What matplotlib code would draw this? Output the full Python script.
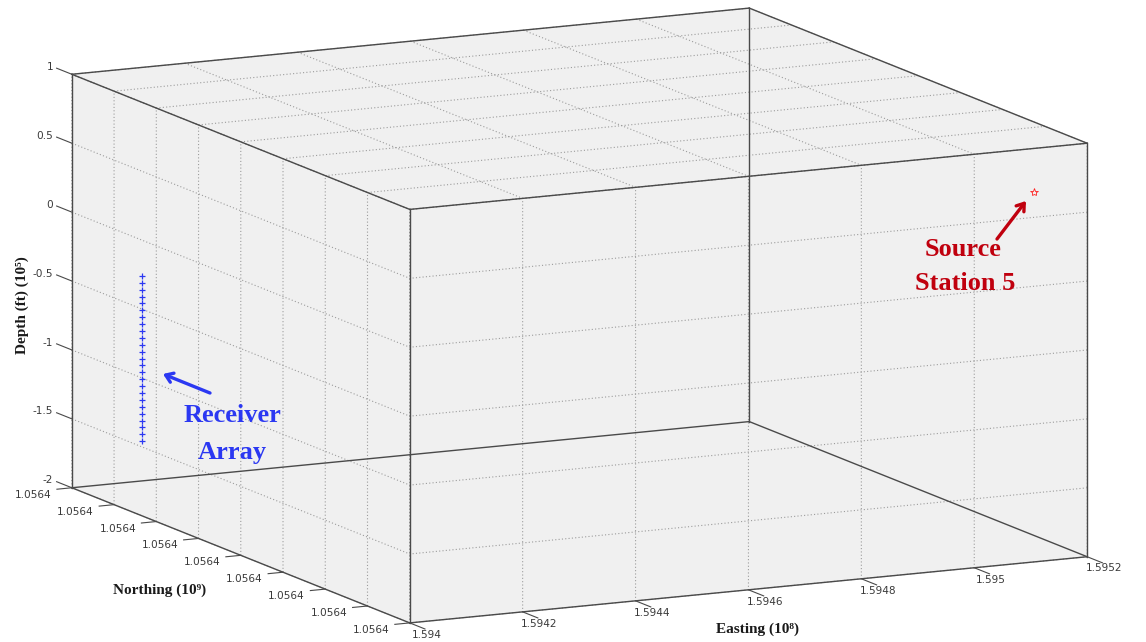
import numpy as np
import matplotlib
matplotlib.use('Agg')
import matplotlib.pyplot as plt
from matplotlib.patches import FancyArrowPatch
from matplotlib.ticker import NullFormatter
from mpl_toolkits.mplot3d import proj3d

# axis ticks: Easting (1e8), Northing (1e9), Depth in ft (1e5)
easting_ticks = [1.594, 1.5942, 1.5944, 1.5946, 1.5948, 1.595, 1.5952]
northing_ticks = [1.056400, 1.056405, 1.056410, 1.056415, 1.056420,
                  1.056425, 1.056430, 1.056435, 1.056440]
depth_ticks = [-2, -1.5, -1, -0.5, 0, 0.5, 1]

# downhole receiver string
receiver_easting = 1.59405
receiver_northing = 1.056405
receiver_depth = [-0.36, -0.41, -0.46, -0.51, -0.56, -0.61, -0.66, -0.71,
                  -0.76, -0.81, -0.86, -0.91, -0.96, -1.01, -1.06, -1.11,
                  -1.16, -1.21, -1.26, -1.31, -1.36, -1.41, -1.46, -1.51,
                  -1.56]

# source station 5
source_easting = [1.59515]
source_northing = [1.056437]
source_depth = [0.59]

W, H = 1146, 642
PANE = '#f0f0f0'
EDGE = '#4a4a4a'
GRID = '#9c9c9c'
TICK_TXT = '#3a3a3a'
SERIF = ['Liberation Serif', 'DejaVu Serif']
BLUE = '#2b38f2'
RED = '#c0000e'


def fig_xy(x, y):
    '''image pixel position (origin top left) -> figure fraction'''
    return x / W, 1 - y / H


fig = plt.figure(figsize=(W / 100, H / 100), dpi=100)
ax = fig.add_axes([0, 0, 1, 1], projection='3d', proj_type='ortho')
ax.view_init(elev=-11.4, azim=-63.7, roll=0)
ax.set_box_aspect((756, 763, 422))
ax.patch.set_visible(False)

for axis, ticks in ((ax.xaxis, easting_ticks), (ax.yaxis, northing_ticks),
                    (ax.zaxis, depth_ticks)):
    axis.set_ticks(ticks)
    axis.set_major_formatter(NullFormatter())
    axis.set_pane_color(PANE)
    axis.line.set_visible(False)
    axis._axinfo['tick']['inward_factor'] = 0
    axis._axinfo['tick']['outward_factor'] = 0
    axis._axinfo['grid'].update(color=GRID, linewidth=0.8, linestyle=(0, (1, 2)))

x0, x1 = easting_ticks[0], easting_ticks[-1]
y0, y1 = northing_ticks[0], northing_ticks[-1]
z0, z1 = depth_ticks[0], depth_ticks[-1]
dx, dy = x1 - x0, y1 - y0

# data
ax.plot([receiver_easting] * len(receiver_depth),
        [receiver_northing] * len(receiver_depth), receiver_depth,
        linestyle='none', marker='+', ms=5, mew=0.9, color=BLUE)
ax.plot(source_easting, source_northing, source_depth, linestyle='none',
        marker='*', ms=6, mew=0.6, mfc='none', mec='#ff2020')

# full box outline
corners = np.array([(x, y, z) for x in (x0, x1) for y in (y0, y1)
                    for z in (z0, z1)])
for i in range(len(corners)):
    for j in range(i + 1, len(corners)):
        if np.sum(corners[i] != corners[j]) == 1:
            a, b = corners[i], corners[j]
            ax.plot([a[0], b[0]], [a[1], b[1]], [a[2], b[2]],
                    color=EDGE, lw=1.0)

# tick marks on the three labelled edges
tick_kw = dict(color=EDGE, lw=0.8)
for z in depth_ticks:
    ax.plot([x0, x0], [y0, y0 - 0.045 * dy], [z, z], **tick_kw)
for y in northing_ticks:
    ax.plot([x0, x0 - 0.022 * dx], [y, y], [z0, z0], **tick_kw)
for x in easting_ticks:
    ax.plot([x, x], [y1, y1 + 0.045 * dy], [z0, z0], **tick_kw)

ax.set_xlim(x0, x1)
ax.set_ylim(y0, y1)
ax.set_zlim(z0, z1)

# scale and shift the axes so the box fills the canvas
fig.canvas.draw()
px, py, _ = proj3d.proj_transform(corners[:, 0], corners[:, 1], corners[:, 2],
                                  ax.get_proj())
disp = ax.transData.transform(np.column_stack([px, py]))
bx0, by0 = disp.min(axis=0)
bx1, by1 = disp.max(axis=0)
tx0, tx1, ty0, ty1 = 72, 1087, H - 623, H - 8
s = ((tx1 - tx0) / (bx1 - bx0) + (ty1 - ty0) / (by1 - by0)) / 2
pos = ax.get_position()
aw, ah = pos.width * W, pos.height * H
acx, acy = (pos.x0 + pos.width / 2) * W, (pos.y0 + pos.height / 2) * H
ncx = (tx0 + tx1) / 2 - s * ((bx0 + bx1) / 2 - acx)
ncy = (ty0 + ty1) / 2 - s * ((by0 + by1) / 2 - acy)
ax.set_position([(ncx - aw * s / 2) / W, (ncy - ah * s / 2) / H,
                 aw * s / W, ah * s / H])
fig.canvas.draw()


def to_fig(x, y, z):
    '''3D data point -> figure fraction, for flat text placement'''
    qx, qy, _ = proj3d.proj_transform(np.atleast_1d(x), np.atleast_1d(y),
                                      np.atleast_1d(z), ax.get_proj())
    pt = ax.transData.transform(np.column_stack([qx, qy]))[0]
    return fig.transFigure.inverted().transform(pt)


# tick labels
label_kw = dict(fontsize=7.6, color=TICK_TXT, family='DejaVu Sans')
for z in depth_ticks:
    fig.text(*to_fig(x0, y0 - 0.055 * dy, z), f'{z:g}', ha='right',
             va='center', **label_kw)
for y in northing_ticks:
    fig.text(*to_fig(x0 - 0.03 * dx, y, z0), f'{y:.4f}', ha='right',
             va='top', **label_kw)
for x in easting_ticks:
    fig.text(*to_fig(x, y1 + 0.05 * dy, z0), f'{x:g}', ha='center',
             va='top', **label_kw)

# axis titles
lab_kw = dict(fontsize=11, fontweight='bold', family=SERIF, color='#1a1a1a',
              ha='center', va='center')
fig.text(*fig_xy(22, 305), 'Depth (ft) (10⁵)', rotation=90, **lab_kw)
fig.text(*fig_xy(160, 590), 'Northing (10⁹)', **lab_kw)
fig.text(*fig_xy(757, 629), 'Easting (10⁸)', **lab_kw)

# callouts
note_kw = dict(fontsize=19, fontweight='bold', family=SERIF,
               ha='center', va='center')
fig.text(*fig_xy(233, 416), 'Receiver', color=BLUE, **note_kw)
fig.text(*fig_xy(232, 452), 'Array', color=BLUE, **note_kw)
fig.text(*fig_xy(963, 249), 'Source', color=RED, **note_kw)
fig.text(*fig_xy(965, 283), 'Station 5', color=RED, **note_kw)

for tail, head, col in (((210, 393), (163, 374), BLUE),
                        ((997, 239), (1026, 201), RED)):
    fig.add_artist(FancyArrowPatch(fig_xy(*tail), fig_xy(*head),
                                   transform=fig.transFigure,
                                   arrowstyle='->,head_length=5,head_width=3.5',
                                   lw=2.4, color=col, shrinkA=0, shrinkB=0))

fig.savefig('out.png', dpi=100, facecolor='white')
